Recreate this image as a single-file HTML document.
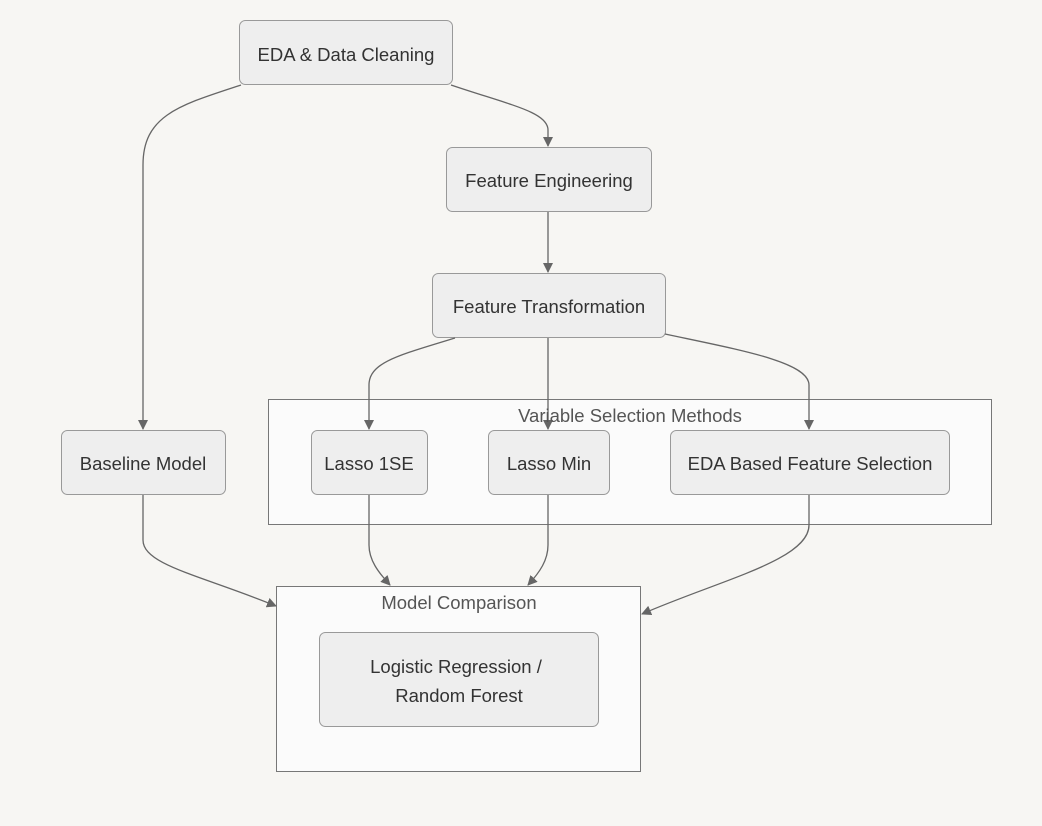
<!DOCTYPE html>
<html><head><meta charset="utf-8"><style>
html,body{margin:0;padding:0;background:#f7f6f3;}
svg{display:block;font-family:"Liberation Sans",sans-serif;}
</style></head><body>
<svg width="1042" height="826" viewBox="0 0 1042 826" xmlns="http://www.w3.org/2000/svg">
<defs><marker id="a" markerWidth="10" markerHeight="10" refX="9" refY="5" orient="auto" markerUnits="userSpaceOnUse"><path d="M0,0 L10,5 L0,10 z" fill="#666"/></marker></defs>
<rect width="1042" height="826" fill="#f7f6f3"/>
<rect x="268.5" y="399.5" width="723" height="125" fill="#fbfbfb" stroke="#777"/>
<rect x="276.5" y="586.5" width="364" height="185" fill="#fbfbfb" stroke="#777"/>
<g fill="#eeeeee" stroke="#999" stroke-width="1">
<rect x="239.5" y="20.5" width="213" height="64" rx="6"/>
<rect x="446.5" y="147.5" width="205" height="64" rx="6"/>
<rect x="432.5" y="273.5" width="233" height="64" rx="6"/>
<rect x="61.5" y="430.5" width="164" height="64" rx="6"/>
<rect x="311.5" y="430.5" width="116" height="64" rx="6"/>
<rect x="488.5" y="430.5" width="121" height="64" rx="6"/>
<rect x="670.5" y="430.5" width="279" height="64" rx="6"/>
<rect x="319.5" y="632.5" width="279" height="94" rx="6"/>
</g>
<g fill="none" stroke="#666" stroke-width="1.3" marker-end="url(#a)">
<path d="M241,85 C180,105 143,115 143,165 L143,429"/>
<path d="M451,85 C510,105 548,112 548,130 L548,146"/>
<path d="M548,212 L548,272"/>
<path d="M455,338 C400,355 369,362 369,385 L369,429"/>
<path d="M548,338 L548,429"/>
<path d="M665,334 C740,350 809,362 809,385 L809,429"/>
<path d="M143,495 L143,540 C143,565 200,575 276,606"/>
<path d="M369,495 L369,545 C369,560 378,572 390,585"/>
<path d="M548,495 L548,545 C548,560 540,572 528,585"/>
<path d="M809,495 L809,525 C809,560 720,580 642,614"/>
</g>
<g font-size="18.5" fill="#333" text-anchor="middle">
<text x="346" y="61">EDA &amp; Data Cleaning</text>
<text x="549" y="187">Feature Engineering</text>
<text x="549" y="313">Feature Transformation</text>
<text x="143" y="470">Baseline Model</text>
<text x="369" y="470">Lasso 1SE</text>
<text x="549" y="470">Lasso Min</text>
<text x="810" y="470">EDA Based Feature Selection</text>
<text x="456" y="673">Logistic Regression /</text>
<text x="459" y="702">Random Forest</text>
</g>
<g font-size="18.5" fill="#555" text-anchor="middle">
<text x="630" y="422">Variable Selection Methods</text>
<text x="459" y="609">Model Comparison</text>
</g>
</svg>
</body></html>
